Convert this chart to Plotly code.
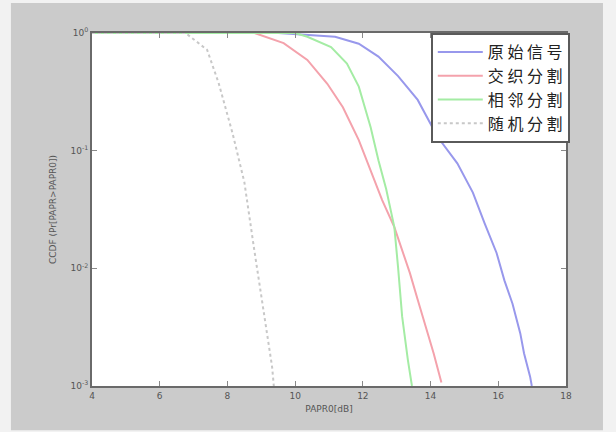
import plotly.graph_objects as go

# x in dB, y as CCDF probability
orig_x = [4, 9.5, 11.18, 11.88, 12.46, 13.04, 13.62, 14.20, 14.79, 15.25, 15.60, 15.95, 16.18, 16.42, 16.65, 16.76, 16.94, 16.99]
orig_y = [1, 1, 0.93, 0.81, 0.63, 0.43, 0.27, 0.132, 0.078, 0.044, 0.024, 0.0135, 0.0079, 0.0050, 0.0028, 0.0019, 0.0012, 0.001]

inter_x = [4, 8.8, 9.66, 10.36, 10.95, 11.41, 11.88, 12.23, 12.57, 12.93, 13.16, 13.39, 13.62, 13.86, 14.09, 14.32]
inter_y = [1, 1, 0.82, 0.59, 0.37, 0.234, 0.123, 0.069, 0.038, 0.0224, 0.0145, 0.0091, 0.0054, 0.0032, 0.0019, 0.00107]

adj_x = [4, 10.0, 10.36, 11.06, 11.53, 11.88, 12.23, 12.46, 12.69, 12.93, 13.04, 13.16, 13.33, 13.45]
adj_y = [1, 1, 0.93, 0.76, 0.55, 0.35, 0.158, 0.083, 0.047, 0.0224, 0.0102, 0.0039, 0.00166, 0.001]

rand_x = [4, 6.76, 7.40, 7.74, 8.15, 8.50, 8.79, 9.02, 9.32, 9.37]
rand_y = [1, 1, 0.72, 0.376, 0.141, 0.054, 0.0145, 0.0054, 0.00145, 0.001]

names = ["原 始 信 号", "交 织 分 割", "相 邻 分 割", "随 机 分 割"]
colors = ["#9898ec", "#f4a2ac", "#a4eca4", "#c8c8c8"]
dashes = ["solid", "solid", "solid", "dot"]

x_ticks = [4, 6, 8, 10, 12, 14, 16, 18]
y_ticks = [1e-3, 1e-2, 1e-1, 1]
y_ticktext = ["10<sup>-3</sup>", "10<sup>-2</sup>", "10<sup>-1</sup>", "10<sup>0</sup>"]

fig = go.Figure()
for xs, ys, n, c, d in zip([orig_x, inter_x, adj_x, rand_x], [orig_y, inter_y, adj_y, rand_y], names, colors, dashes):
    fig.add_trace(go.Scatter(x=xs, y=ys, mode="lines", name=n,
                             line=dict(color=c, width=2, dash=d)))

axis_common = dict(showline=True, linecolor="#6a6a6a", linewidth=2, mirror="ticks",
                   ticks="inside", ticklen=5, tickcolor="#8a8a8a", showgrid=False, zeroline=False,
                   tickfont=dict(size=9, color="#555555", family="DejaVu Sans"))

fig.update_layout(
    width=616, height=432,
    margin=dict(l=92, r=50, t=33, b=46),
    paper_bgcolor="#f2f2f2",
    plot_bgcolor="white",
    font=dict(family="Noto Sans CJK SC"),
    xaxis=dict(range=[4, 18], tickvals=x_ticks, ticktext=[str(v) for v in x_ticks],
               title=dict(text="PAPR0[dB]", font=dict(size=9, color="#555555", family="DejaVu Sans"), standoff=6),
               **axis_common),
    yaxis=dict(type="log", range=[-3, 0], tickvals=y_ticks, ticktext=y_ticktext,
               title=dict(text="CCDF (Pr[PAPR>PAPR0])", font=dict(size=9, color="#555555", family="DejaVu Sans"), standoff=12),
               **axis_common),
    legend=dict(x=1.008, y=1.0, xanchor="right", yanchor="top",
                bgcolor="white", bordercolor="#5a5a5a", borderwidth=2,
                font=dict(size=16, color="#222222", family="Noto Sans CJK SC"),
                tracegroupgap=0, itemwidth=45),
    showlegend=True,
    shapes=[
        dict(type="rect", xref="paper", yref="paper", x0=-0.171, x1=1.078, y0=-0.125, y1=1.085,
             fillcolor="#cbcbcb", line=dict(width=0), layer="below"),
        dict(type="rect", xref="paper", yref="paper", x0=0, x1=1, y0=0, y1=1,
             fillcolor="white", line=dict(width=0), layer="below"),
    ],
)

fig.write_html("out.html")
